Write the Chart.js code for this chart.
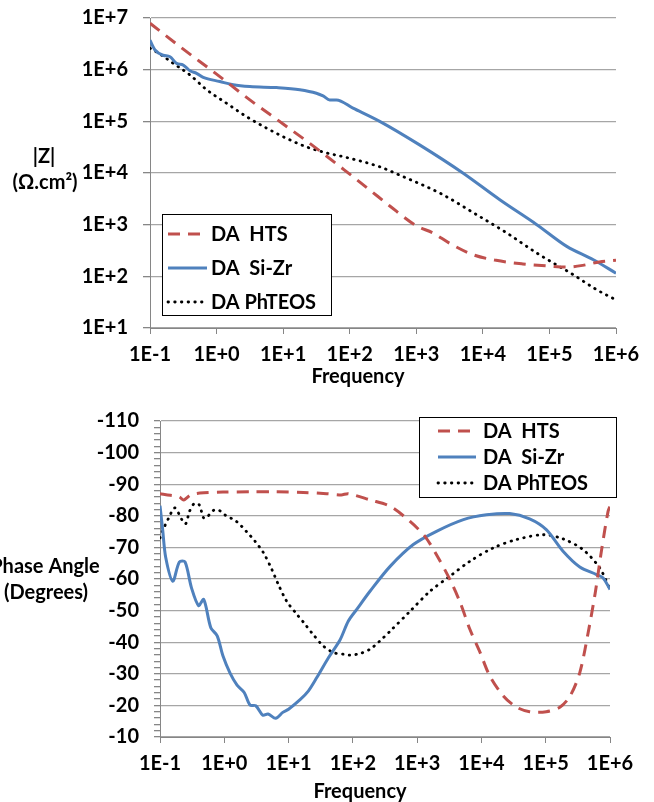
<!DOCTYPE html>
<html>
<head>
<meta charset="utf-8">
<script src="https://cdn.jsdelivr.net/npm/chart.js@4.4.1/dist/chart.umd.min.js"></script>
<style>
  html, body { margin: 0; padding: 0; background: #fff; }
  #wrap { position: relative; width: 654px; height: 802px; overflow: hidden; }
  .box { position: absolute; left: 0; width: 654px; }
</style>
</head>
<body>
<div id="wrap">
  <div class="box" style="top:0;height:395px"><canvas id="zChart"></canvas></div>
  <div class="box" style="top:400px;height:402px"><canvas id="phaseChart"></canvas></div>
</div>
<script>
// series names
const seriesNames = ['DA  HTS', 'DA  Si-Zr', 'DA PhTEOS'];

// ---- |Z| data (frequency in Hz, impedance in ohm.cm2) ----
const htsZFreq = [0.1, 0.316, 1, 3.16, 10, 31.6, 100, 200, 400, 1000, 1780, 3160, 7080, 15800, 39800, 100000, 178000, 316000, 562000, 1000000];
const htsZ = [7.9e6, 2.5e6, 8.2e5, 2.6e5, 8.9e4, 3.0e4, 9.5e3, 4.7e3, 2.3e3, 955, 690, 437, 263, 204, 174, 158, 151, 163, 190, 204];

const sizrZFreq = [0.1, 0.119, 0.158, 0.2, 0.251, 0.316, 0.398, 0.501, 0.631, 1.12, 1.78, 3.16, 7.94, 17.8, 31.6, 39.8, 50.1, 63.1, 112, 282, 1120, 5010, 18200, 64600, 182000, 457000, 1000000];
const sizrZ = [3.7e6, 2.4e6, 1.9e6, 1.78e6, 1.32e6, 1.23e6, 9.5e5, 8.5e5, 7.1e5, 5.9e5, 5.1e5, 4.7e5, 4.5e5, 4.1e5, 3.5e5, 3.1e5, 2.6e5, 2.6e5, 1.8e5, 1.0e5, 3.5e4, 1.0e4, 3.0e3, 1.0e3, 380, 209, 115];

const phteosZFreq = [0.1, 0.141, 0.224, 0.398, 0.708, 1.41, 2.82, 5.62, 11.2, 22.4, 44.7, 89.1, 282, 562, 2240, 8130, 22900, 64600, 229000, 513000, 1000000];
const phteosZ = [2.6e6, 2.0e6, 1.32e6, 7.9e5, 4.1e5, 2.24e5, 1.23e5, 7.4e4, 4.7e4, 3.2e4, 2.45e4, 2.0e4, 1.32e4, 9.1e3, 4.1e3, 1.55e3, 690, 282, 107, 55, 35];

// ---- phase data (degrees) ----
const htsPhaseFreq = [0.1, 0.145, 0.2, 0.234, 0.3, 0.417, 0.955, 2.51, 6.46, 17, 38.9, 66, 85, 186, 380, 776, 1320, 2000, 3240, 4680, 6610, 9550, 13500, 21900, 35500, 56200, 102000, 166000, 240000, 339000, 457000, 589000, 741000, 933000, 1000000];
const htsPhase = [-87.0, -86.5, -86.0, -85.0, -86.6, -87.2, -87.5, -87.6, -87.6, -87.4, -87.0, -86.6, -87.0, -85.0, -83.0, -78.2, -73.5, -67.7, -59.8, -52.5, -44.1, -36.7, -29.3, -23.0, -19.4, -18.0, -18.0, -19.4, -23.0, -30.4, -43.0, -55.6, -69.3, -81.4, -83.0];

const sizrPhaseFreq = [0.1, 0.11, 0.123, 0.158, 0.2, 0.245, 0.309, 0.398, 0.479, 0.617, 0.776, 0.955, 1.23, 1.58, 2.04, 2.51, 3.09, 3.98, 4.79, 6.31, 8.13, 10, 15.1, 20.4, 27.5, 41.7, 63.1, 85.1, 115, 186, 380, 871, 2000, 5250, 12000, 27500, 56200, 102000, 186000, 339000, 617000, 776000, 1000000];
const sizrPhase = [-83.2, -75.6, -66.7, -59.3, -65.4, -65.4, -57.2, -51.6, -53.5, -44.6, -42.0, -35.6, -30.2, -26.4, -24.1, -20.1, -19.9, -16.9, -17.3, -15.9, -17.8, -18.8, -21.8, -24.6, -28.8, -35.1, -40.7, -46.7, -50.4, -56.2, -64.0, -70.9, -75.1, -78.8, -80.3, -80.7, -79.0, -75.6, -68.8, -63.8, -61.4, -60.4, -56.7];

const phteosPhaseFreq = [0.1, 0.11, 0.135, 0.17, 0.219, 0.251, 0.288, 0.339, 0.407, 0.479, 0.562, 0.676, 0.832, 1.02, 1.55, 2.24, 3.02, 4.07, 5.5, 6.92, 9.33, 13.5, 18.2, 24, 34.7, 50.1, 70.8, 89.1, 129, 186, 263, 380, 776, 1580, 3240, 6610, 15100, 35500, 91200, 186000, 380000, 692000, 1000000];
const phteosPhase = [-73, -75.3, -79.1, -82.5, -78.8, -77.5, -81.4, -83.8, -83.5, -79.3, -80.0, -81.7, -81.7, -80.3, -78.2, -74.9, -71.9, -68.3, -63.0, -58.3, -53.0, -48.8, -45.6, -42.5, -38.8, -36.7, -36.2, -35.9, -36.4, -37.8, -40.4, -43.5, -49.8, -56.1, -60.9, -65.6, -69.8, -72.5, -74.0, -72.7, -69.3, -63.5, -56.7];

// ---- tick labels ----
const freqTicks = [0.1, 1, 10, 100, 1000, 10000, 100000, 1000000];
const freqTickLabels = ['1E-1', '1E+0', '1E+1', '1E+2', '1E+3', '1E+4', '1E+5', '1E+6'];
const zTicks = [10, 100, 1000, 10000, 100000, 1000000, 10000000];
const zTickLabels = ['1E+1', '1E+2', '1E+3', '1E+4', '1E+5', '1E+6', '1E+7'];

const FONT_FAMILY = 'Lato';
const FONT_SIZE = 20;
const gridColor = '#a6a6a6';
const axisColor = '#868686';

Chart.defaults.font.family = FONT_FAMILY;
Chart.defaults.font.weight = 'bold';
Chart.defaults.font.size = FONT_SIZE;
Chart.defaults.color = '#000';

function pts(xs, ys) {
    return xs.map((x, i) => ({ x: x, y: ys[i] }));
}

// line styles shared by both charts
const styles = [
    { borderColor: '#C0504D', borderWidth: 3, borderDash: [12, 8], borderCapStyle: 'butt' },
    { borderColor: '#4F81BD', borderWidth: 3, borderDash: [], borderCapStyle: 'butt' },
    { borderColor: '#000000', borderWidth: 2.8, borderDash: [0.5, 6.2], borderCapStyle: 'round' }
];

function makeDataset(i, data, smooth) {
    return Object.assign({
        label: seriesNames[i],
        data: data,
        pointRadius: 0,
        fill: false,
        tension: smooth,
        cubicInterpolationMode: smooth === 'monotone' ? 'monotone' : 'default'
    }, styles[i]);
}

// draws axis titles and the framed legend inside the plot
const overlayPlugin = {
    id: 'overlay',
    afterDraw(chart, args, opts) {
        const ctx = chart.ctx;
        ctx.save();
        ctx.font = 'bold ' + FONT_SIZE + 'px ' + FONT_FAMILY;
        ctx.fillStyle = '#000';
        ctx.textAlign = 'center';
        ctx.textBaseline = 'middle';
        opts.titles.forEach(t => ctx.fillText(t.text, t.x, t.y));

        const lg = opts.legend;
        ctx.fillStyle = '#fff';
        ctx.fillRect(lg.x, lg.y, lg.w, lg.h);
        ctx.strokeStyle = '#000';
        ctx.lineWidth = 1;
        ctx.strokeRect(lg.x + 0.5, lg.y + 0.5, lg.w, lg.h);

        chart.data.datasets.forEach((ds, i) => {
            const y = lg.rowY[i];
            ctx.beginPath();
            ctx.setLineDash(ds.borderDash);
            ctx.lineCap = ds.borderCapStyle;
            ctx.lineWidth = ds.borderWidth;
            ctx.strokeStyle = ds.borderColor;
            ctx.moveTo(lg.lineX0, y);
            ctx.lineTo(lg.lineX1, y);
            ctx.stroke();
            ctx.setLineDash([]);
            ctx.fillStyle = '#000';
            ctx.textAlign = 'left';
            ctx.fillText(ds.label, lg.textX, y + 1);
        });
        ctx.restore();
    }
};

function freqAxis(xHeight) {
    return {
        type: 'logarithmic',
        min: 0.1,
        max: 1000000,
        afterBuildTicks: s => { s.ticks = freqTicks.map(v => ({ value: v })); },
        afterFit: s => {
            s.height = xHeight;
            s.paddingLeft = 0;
            s.paddingRight = 0;
        },
        ticks: {
            autoSkip: false,
            maxRotation: 0,
            padding: 9,
            callback: (v, i) => freqTickLabels[i]
        },
        grid: { drawOnChartArea: false, drawTicks: true, tickLength: 6, tickColor: axisColor },
        border: { color: axisColor, width: 1 }
    };
}

// keeps the plot area where the layout padding puts it
function fixY(width) {
    return s => {
        s.width = width;
        s.paddingTop = 0;
        s.paddingBottom = 0;
    };
}

// ---- top chart: |Z| ----
new Chart(document.getElementById('zChart'), {
    type: 'line',
    data: {
        datasets: [
            makeDataset(0, pts(htsZFreq, htsZ), 'monotone'),
            makeDataset(1, pts(sizrZFreq, sizrZ), 'monotone'),
            makeDataset(2, pts(phteosZFreq, phteosZ), 'monotone')
        ]
    },
    options: {
        responsive: true,
        maintainAspectRatio: false,
        animation: false,
        layout: { padding: { left: 0, right: 38, top: 18, bottom: 0 } },
        plugins: {
            legend: { display: false },
            tooltip: { enabled: false },
            overlay: {
                titles: [
                    { text: '|Z|', x: 44, y: 157 },
                    { text: '(\u03A9.cm\u00B2)', x: 45, y: 183 },
                    { text: 'Frequency', x: 358, y: 377 }
                ],
                legend: { x: 162, y: 214, w: 169, h: 101, rowY: [234, 268, 302], lineX0: 168, lineX1: 207, textX: 211 }
            }
        },
        scales: {
            x: freqAxis(67),
            y: {
                type: 'logarithmic',
                min: 10,
                max: 10000000,
                afterBuildTicks: s => { s.ticks = zTicks.map(v => ({ value: v })); },
                afterFit: fixY(150),
                ticks: { autoSkip: false, padding: 15, callback: (v, i) => zTickLabels[i] },
                grid: { color: gridColor, lineWidth: 1.3, tickLength: 7, tickColor: axisColor },
                border: { color: axisColor, width: 1 }
            }
        }
    },
    plugins: [overlayPlugin]
});

// ---- bottom chart: phase angle ----
new Chart(document.getElementById('phaseChart'), {
    type: 'line',
    data: {
        datasets: [
            makeDataset(0, pts(htsPhaseFreq, htsPhase), 0.3),
            makeDataset(1, pts(sizrPhaseFreq, sizrPhase), 0.3),
            makeDataset(2, pts(phteosPhaseFreq, phteosPhase), 0.3)
        ]
    },
    options: {
        responsive: true,
        maintainAspectRatio: false,
        animation: false,
        layout: { padding: { left: 0, right: 44, top: 21, bottom: 0 } },
        plugins: {
            legend: { display: false },
            tooltip: { enabled: false },
            overlay: {
                titles: [
                    { text: 'Phase Angle', x: 45, y: 167 },
                    { text: '(Degrees)', x: 46, y: 193 },
                    { text: 'Frequency', x: 360, y: 392 }
                ],
                legend: { x: 419, y: 17, w: 197, h: 80, rowY: [31, 57, 83], lineX0: 438, lineX1: 476, textX: 483 }
            }
        },
        scales: {
            x: freqAxis(65),
            y: {
                type: 'linear',
                reverse: true,
                min: -110,
                max: -10,
                afterFit: fixY(160),
                ticks: {
                    autoSkip: false,
                    stepSize: 2,
                    padding: 15,
                    callback: v => (v % 10 === 0 ? String(v) : '')
                },
                grid: {
                    color: c => (c.tick && c.tick.value % 10 === 0 ? gridColor : 'rgba(0,0,0,0)'),
                    lineWidth: 1.3,
                    tickLength: 6,
                    tickColor: axisColor
                },
                border: { color: axisColor, width: 1 }
            }
        }
    },
    plugins: [overlayPlugin]
});
</script>
</body>
</html>
